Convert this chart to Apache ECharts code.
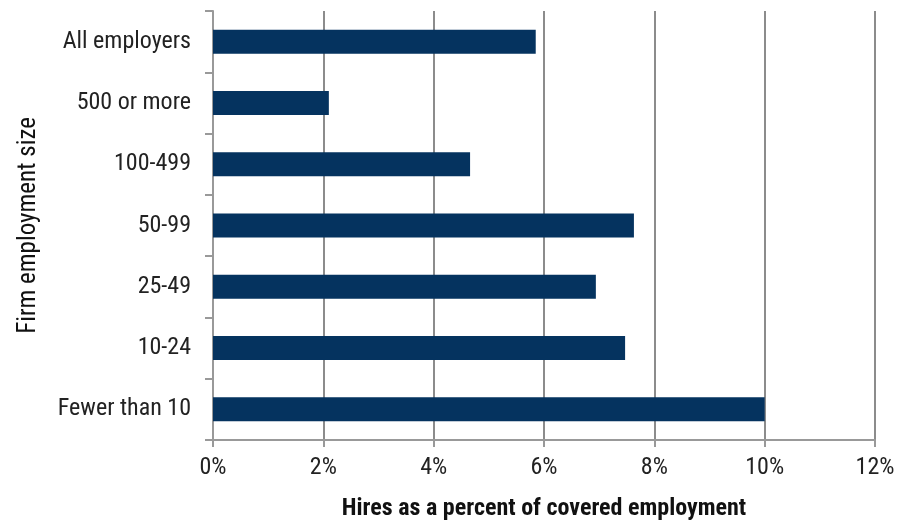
<!DOCTYPE html>
<html>
<head>
<meta charset="utf-8">
<script src="https://cdn.jsdelivr.net/npm/echarts@6/dist/echarts.min.js"></script>
<style>
  html, body { margin: 0; padding: 0; background: #fff; }
  #chart { width: 912px; height: 521px; }
</style>
</head>
<body>
<div id="chart"></div>
<script>
// Firm size categories, bottom to top
const categories = ['Fewer than 10', '10-24', '25-49', '50-99', '100-499', '500 or more', 'All employers'];
// Hires as a percent of covered employment
const hiresPct = [10.0, 7.47, 6.94, 7.63, 4.66, 2.1, 5.85];
const xTicks = [0, 2, 4, 6, 8, 10, 12];

const FONT = '"Liberation Sans Narrow", "Arial Narrow", "Roboto Condensed", "Liberation Sans", sans-serif';

const chart = echarts.init(document.getElementById('chart'), null, { renderer: 'canvas' });
chart.setOption({
  animation: false,
  grid: { left: 213, right: 37, top: 11, bottom: 81, containLabel: false, outerBoundsMode: 'none' },
  xAxis: {
    type: 'value',
    min: xTicks[0],
    max: xTicks[xTicks.length - 1],
    interval: 2,
    name: 'Hires as a percent of covered employment',
    nameLocation: 'middle',
    nameGap: 57,
    nameTextStyle: { fontFamily: FONT, fontSize: 24, fontWeight: 'bold', color: '#111' },
    axisLine: { show: true, lineStyle: { color: '#999', width: 2 } },
    axisTick: { show: true, length: 7, lineStyle: { color: '#999', width: 2 } },
    axisLabel: { formatter: v => v + '%', fontFamily: FONT, fontSize: 24, color: '#222', margin: 16 },
    splitLine: { show: true, lineStyle: { color: '#8c8c8c', width: 2 } }
  },
  yAxis: {
    type: 'category',
    data: categories,
    name: 'Firm employment size',
    nameLocation: 'middle',
    nameGap: 172,
    nameRotate: 90,
    nameTextStyle: { fontFamily: FONT, fontSize: 25, fontWeight: 'normal', color: '#111' },
    axisLine: { show: true, lineStyle: { color: '#999', width: 2 } },
    axisTick: { show: true, length: 8, lineStyle: { color: '#999', width: 2 } },
    axisLabel: { fontFamily: FONT, fontSize: 24, color: '#222', margin: 22 },
    splitLine: { show: false }
  },
  series: [{
    type: 'bar',
    data: hiresPct,
    barWidth: 24,
    itemStyle: { color: '#05335f' }
  }]
});
</script>
</body>
</html>
